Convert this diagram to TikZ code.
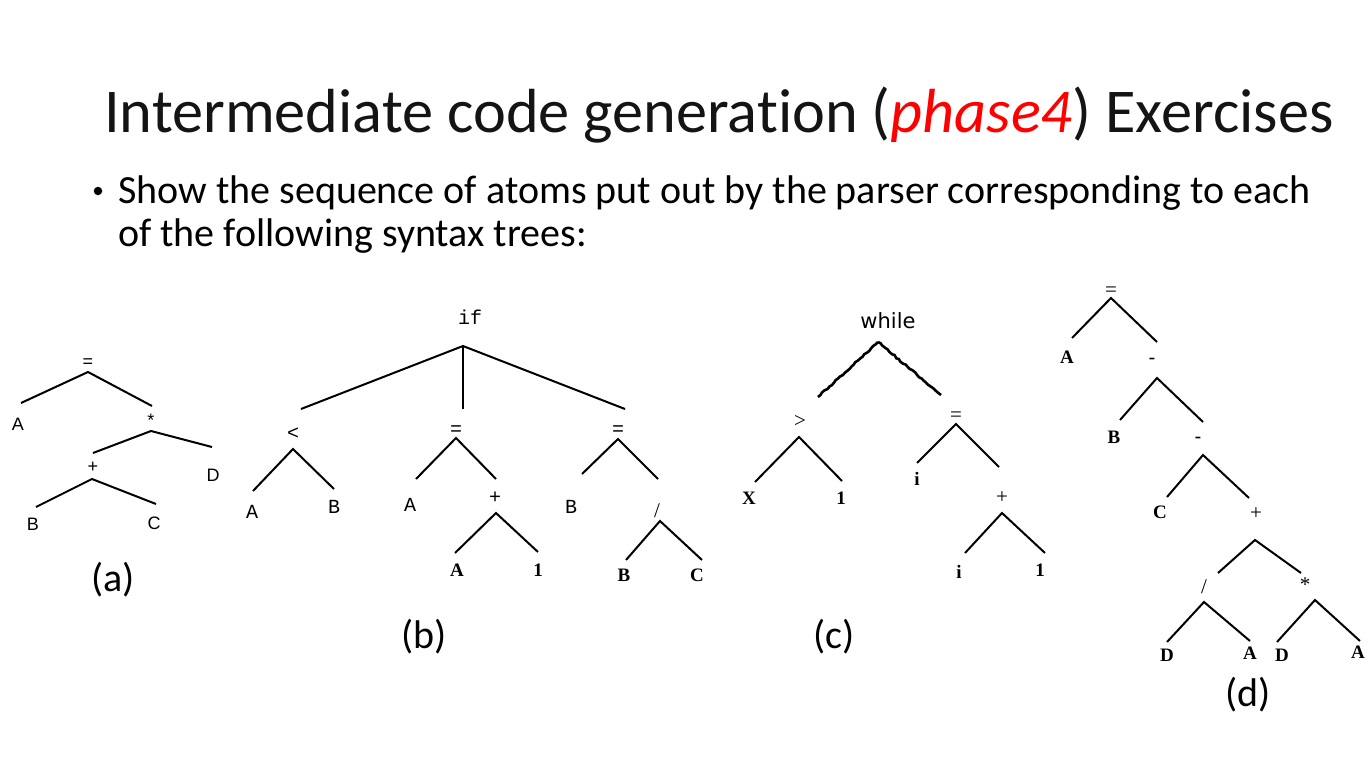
\documentclass[tikz,border=0pt]{standalone}
\usepackage{fontspec}
\setmainfont{Carlito}[Ligatures=NoCommon]
\newfontfamily\arialf{Liberation Sans}
\newfontfamily\courf{Liberation Mono}
\newfontfamily\timesf{Liberation Serif}
\newfontfamily\dejaf{DejaVu Sans}
\usetikzlibrary{decorations.pathmorphing}
\definecolor{titlered}{RGB}{255,0,0}
\definecolor{titleink}{RGB}{20,20,20}
\begin{document}
\begin{tikzpicture}[x=1pt,y=-1pt,
  lab/.style={inner sep=0pt,anchor=center},
  ta/.style={lab,font=\arialf\fontsize{18}{18}\selectfont},
  tc/.style={lab,font=\courf\fontsize{20}{20}\selectfont},
  tt/.style={lab,font=\timesf\fontsize{21}{21}\selectfont},
  tb/.style={lab,font=\timesf\bfseries\fontsize{19}{19}\selectfont},
  edge/.style={line width=2pt},
  jag/.style={line width=2.6pt,decorate,decoration={random steps,segment length=3pt,amplitude=0.7pt}},
  capstyle/.style={inner sep=0pt,anchor=center,font=\fontsize{40}{40}\selectfont}]
\useasboundingbox (0,0) rectangle (1371,760);
\fill[white] (0,0) rectangle (1371,760);
\pgfmathsetseed{7}
% title and bullet
\node[inner sep=0pt,anchor=base west,text=titleink,font=\fontsize{62.3}{62.3}\selectfont] (title) at (104,132)
  {Intermediate code generation (\textcolor{titlered}{\itshape phase4}) Exercises};
\node[circle,fill=black,inner sep=0pt,minimum size=8.5pt] (bul) at (98,191) {};
\node[inner sep=0pt,anchor=base west,font=\fontsize{40}{40}\selectfont] (line1) at (118,203)
  {Show the sequence of atoms put out by the parser corresponding to each};
\node[inner sep=0pt,anchor=base west,font=\fontsize{40}{40}\selectfont] (line2) at (118,246)
  {of the following syntax trees:};
% captions
\node[capstyle] (capa) at (113,580) {(a)};
\node[capstyle] (capb) at (424,637) {(b)};
\node[capstyle] (capc) at (834,637) {(c)};
\node[capstyle] (capd) at (1248,695) {(d)};
% ---------------- tree (a)
\node[ta] (a-eq) at (88,363) {=};
\node[ta] (a-A) at (18,424) {A};
\node[ta] (a-mul) at (151,420) {*};
\node[ta] (a-plus) at (93,467) {+};
\node[ta] (a-D) at (213,475) {D};
\node[ta] (a-B) at (33,524) {B};
\node[ta] (a-C) at (154,523) {C};
\coordinate (a-eq-o) at (88,372);
\coordinate (a-A-i) at (21,403);
\coordinate (a-mul-i) at (152,406);
\coordinate (a-mul-o) at (151,431);
\coordinate (a-plus-i) at (93,453);
\coordinate (a-D-i) at (212,447);
\coordinate (a-plus-o) at (92,479);
\coordinate (a-B-i) at (36,507);
\coordinate (a-C-i) at (156,504);
\draw[edge] (a-A-i) -- (a-eq-o) -- (a-mul-i);
\draw[edge] (a-plus-i) -- (a-mul-o) -- (a-D-i);
\draw[edge] (a-B-i) -- (a-plus-o) -- (a-C-i);
% ---------------- tree (b)
\node[tc] (b-if) at (470,317) {if};
\node[tc] (b-lt) at (293,434) {<};
\node[tc] (b-eq1) at (456,431) {=};
\node[tc] (b-eq2) at (618,431) {=};
\node[tc] (b-A1) at (252,512) {A};
\node[tc] (b-B1) at (334,507) {B};
\node[tc] (b-A2) at (410,505) {A};
\node[tc] (b-plus) at (495,498) {+};
\node[tc] (b-B2) at (571,507) {B};
\node[tt] (b-div) at (657,511) {/};
\node[tb] (b-A3) at (457,570) {A};
\node[tb] (b-one) at (538,570) {1};
\node[tb] (b-B3) at (624,575) {B};
\node[tb] (b-C3) at (697,575) {C};
\coordinate (b-if-o) at (463,346);
\coordinate (b-lt-i) at (301,409);
\coordinate (b-eq1-i) at (463,409);
\coordinate (b-eq2-i) at (625,409);
\coordinate (b-lt-o) at (293,449);
\coordinate (b-A1-i) at (253,491);
\coordinate (b-B1-i) at (334,489);
\coordinate (b-eq1-o) at (456,438);
\coordinate (b-A2-i) at (416,479);
\coordinate (b-plus-i) at (496,479);
\coordinate (b-plus-o) at (496,513);
\coordinate (b-A3-i) at (455,553);
\coordinate (b-one-i) at (538,552);
\coordinate (b-eq2-o) at (618,439);
\coordinate (b-B2-i) at (582,474);
\coordinate (b-div-i) at (658,479);
\coordinate (b-div-o) at (660,521);
\coordinate (b-B3-i) at (626,560);
\coordinate (b-C3-i) at (702,560);
\draw[edge] (b-lt-i) -- (b-if-o) -- (b-eq2-i);
\draw[edge] (b-if-o) -- (b-eq1-i);
\draw[edge] (b-A1-i) -- (b-lt-o) -- (b-B1-i);
\draw[edge] (b-A2-i) -- (b-eq1-o) -- (b-plus-i);
\draw[edge] (b-A3-i) -- (b-plus-o) -- (b-one-i);
\draw[edge] (b-B2-i) -- (b-eq2-o) -- (b-div-i);
\draw[edge] (b-B3-i) -- (b-div-o) -- (b-C3-i);
% ---------------- tree (c)
\node[lab,font=\dejaf\fontsize{21}{21}\selectfont] (c-while) at (888,321) {while};
\node[tt] (c-gt) at (800,421) {>};
\node[tt] (c-eq) at (956,417) {=};
\node[tb] (c-X) at (749,498) {X};
\node[tb] (c-one1) at (841,498) {1};
\node[tb] (c-i1) at (917,479) {i};
\node[tt] (c-plus) at (1002,498) {+};
\node[tb] (c-i2) at (959,572) {i};
\node[tb] (c-one2) at (1040,570) {1};
\coordinate (c-w-o) at (878,342);
\coordinate (c-gt-i) at (818,397);
\coordinate (c-eq-i) at (941,395);
\coordinate (c-gt-o) at (799,437);
\coordinate (c-X-i) at (755,482);
\coordinate (c-one1-i) at (842,481);
\coordinate (c-eq-o) at (956,424);
\coordinate (c-i1-i) at (917,463);
\coordinate (c-plus-i) at (999,467);
\coordinate (c-plus-o) at (1002,513);
\coordinate (c-i2-i) at (965,553);
\coordinate (c-one2-i) at (1045,553);
\draw[jag] (c-w-o) -- (c-gt-i);
\draw[jag] (c-w-o) -- (c-eq-i);
\draw[edge] (c-X-i) -- (c-gt-o) -- (c-one1-i);
\draw[edge] (c-i1-i) -- (c-eq-o) -- (c-plus-i);
\draw[edge] (c-i2-i) -- (c-plus-o) -- (c-one2-i);
% ---------------- tree (d)
\node[tt] (d-eq) at (1111,292) {=};
\node[tb] (d-A1) at (1067,357) {A};
\node[tb] (d-m1) at (1152,361) {-};
\node[tb] (d-B) at (1114,437) {B};
\node[tb] (d-m2) at (1198,440) {-};
\node[tb] (d-C) at (1160,512) {C};
\node[tt] (d-plus) at (1256,514) {+};
\node[tt] (d-div) at (1204,587) {/};
\node[tt] (d-mul) at (1305,585) {*};
\node[tb] (d-D1) at (1167,655) {D};
\node[tb] (d-A2) at (1250,653) {A};
\node[tb] (d-D2) at (1282,655) {D};
\node[tb] (d-A3) at (1358,652) {A};
\coordinate (d-eq-o) at (1111,298);
\coordinate (d-A1-i) at (1072,338);
\coordinate (d-m1-i) at (1157,342);
\coordinate (d-m1-o) at (1157,378);
\coordinate (d-B-i) at (1120,420);
\coordinate (d-m2-i) at (1203,422);
\coordinate (d-m2-o) at (1203,455);
\coordinate (d-C-i) at (1167,497);
\coordinate (d-plus-i) at (1249,498);
\coordinate (d-plus-o) at (1255,540);
\coordinate (d-div-i) at (1218,573);
\coordinate (d-mul-i) at (1301,573);
\coordinate (d-div-o) at (1204,602);
\coordinate (d-D1-i) at (1167,642);
\coordinate (d-A2-i) at (1250,641);
\coordinate (d-mul-o) at (1315,600);
\coordinate (d-D2-i) at (1277,642);
\coordinate (d-A3-i) at (1360,641);
\draw[edge] (d-A1-i) -- (d-eq-o) -- (d-m1-i);
\draw[edge] (d-B-i) -- (d-m1-o) -- (d-m2-i);
\draw[edge] (d-C-i) -- (d-m2-o) -- (d-plus-i);
\draw[edge] (d-div-i) -- (d-plus-o) -- (d-mul-i);
\draw[edge] (d-D1-i) -- (d-div-o) -- (d-A2-i);
\draw[edge] (d-D2-i) -- (d-mul-o) -- (d-A3-i);
\end{tikzpicture}
\end{document}
